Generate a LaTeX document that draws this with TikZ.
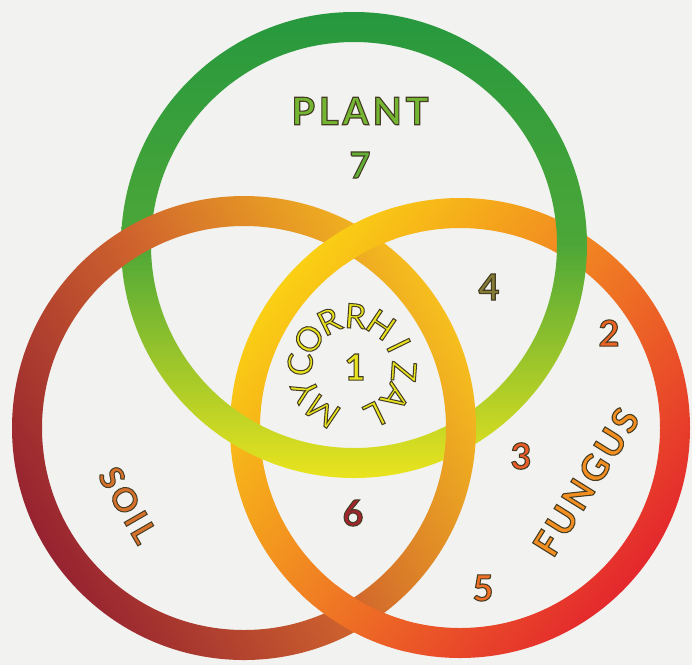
\documentclass[tikz,border=0pt]{standalone}
\usepackage{fontspec}
\setmainfont{Lato}[BoldFeatures={FakeBold=3}, FakeBold=3]
\newfontfamily\wordfont{Lato}[LetterSpace=10, BoldFeatures={FakeBold=3}]
\usetikzlibrary{calc}

\definecolor{paper}{RGB}{242,242,240}
\definecolor{plantgreen}{RGB}{38,152,62}
\definecolor{plantyellow}{RGB}{234,228,30}
\definecolor{soildark}{RGB}{150,35,48}
\definecolor{soilmid}{RGB}{208,100,45}
\definecolor{soillight}{RGB}{246,190,30}
\definecolor{fungusyellow}{RGB}{250,208,20}
\definecolor{fungusmid}{RGB}{240,125,35}
\definecolor{fungusred}{RGB}{228,40,45}

% text whose glyph edge is stroked dark
\newcommand\rimtext[2]{\textcolor{#1}{\special{pdf:code 0.27 0.24 0.14 RG}#2}}

\begin{document}
\begin{tikzpicture}[x=1pt, y=-1pt,
    plantring/.style={even odd rule, top color=plantgreen, bottom color=plantyellow, middle color=plantgreen!80!plantyellow},
    soilring/.style={even odd rule, top color=soillight, bottom color=soildark, middle color=soilmid, shading angle=-60},
    fungusring/.style={even odd rule, top color=fungusyellow, bottom color=fungusred, middle color=fungusmid, shading angle=50},
    number/.style={font=\bfseries\fontsize{36}{36}\selectfont, inner sep=0pt},
    word/.style={font=\wordfont\bfseries\fontsize{36}{36}\selectfont, inner sep=0pt},
    mycletter/.style={font=\fontsize{34}{34}\selectfont, inner sep=0pt}
  ]
    \fill[paper] (0,0) rectangle (692,665);
    \useasboundingbox (0,0) rectangle (692,665);

    % Centres
    \coordinate (plant) at (354,245);
    \coordinate (soil) at (244,428);
    \coordinate (fungus) at (460,428);
    \coordinate (myccentre) at (352,368);

    % Rings
    \shade[fungusring] (fungus) circle[radius=230] (fungus) circle[radius=200];
    \shade[plantring] (plant) circle[radius=233] (plant) circle[radius=203];
    \shade[soilring] (soil) circle[radius=232] (soil) circle[radius=202];
    \begin{scope}
      \clip (310,188) rectangle (395,265) (300,585) rectangle (405,665);
      \shade[fungusring] (fungus) circle[radius=230] (fungus) circle[radius=200];
    \end{scope}

    % Labels
    \node[word, font=\wordfont\bfseries\fontsize{38}{38}\selectfont] (plantlabel) at (360,111) {\rimtext{plantgreen!60!plantyellow}{PLANT}};
    \node[word, rotate=-60, font=\wordfont\bfseries\fontsize{33}{33}\selectfont] (soillabel) at (128,505) {\rimtext{soilmid!85!soillight}{SOIL}};
    \node[word, rotate=58] (funguslabel) at (586,482) {\rimtext{fungusmid!80!fungusyellow}{FUNGUS}};

    % Region numbers
    \node[number] (n1) at (355,367) {\rimtext{plantyellow}{1}};
    \node[number] (n2) at (609,333) {\rimtext{fungusmid!70!fungusred}{2}};
    \node[number] (n3) at (521,456) {\rimtext{fungusmid!60!fungusred}{3}};
    \node[number] (n4) at (489,287) {\rimtext{plantgreen!45!soilmid}{4}};
    \node[number] (n5) at (483,588) {\rimtext{fungusmid!85!fungusred}{5}};
    \node[number] (n6) at (353,513) {\rimtext{soildark!85!fungusred}{6}};
    \node[number] (n7) at (360,165) {\rimtext{plantgreen!70!plantyellow}{7}};

    % Curved word round region 1
    \foreach \ch [count=\k from 0] in {M,Y,C,O,R,R,H,I,Z,A,L}
      \node[mycletter, rotate={146-30*\k}] (myc\k) at ($(myccentre)+({30*\k-236}:52)$) {\rimtext{plantyellow}{\ch}};
\end{tikzpicture}
\end{document}
